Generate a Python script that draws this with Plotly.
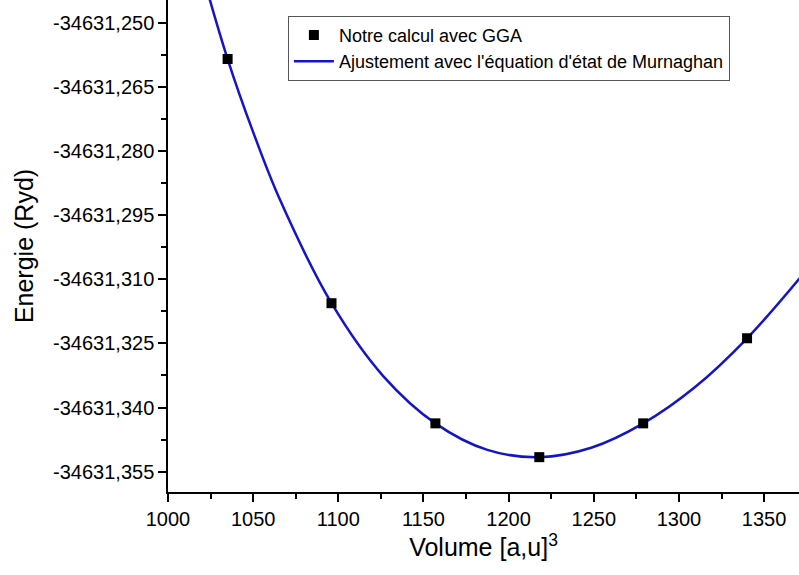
import plotly.graph_objects as go

# Data points (GGA calculation)
volume = [1035, 1096, 1157, 1218, 1279, 1340]
energy = [-34631.2585, -34631.3156, -34631.3437, -34631.3516, -34631.3437, -34631.3238]

# Murnaghan fit curve
fit_volume = [1022, 1035, 1050, 1065.5, 1096, 1126.5, 1157, 1187.5, 1218, 1248.5, 1279, 1309.5, 1340, 1371]
fit_energy = [-34631.2411, -34631.2585, -34631.2756, -34631.2912, -34631.3156, -34631.3327,
              -34631.3437, -34631.3499, -34631.3516, -34631.3494, -34631.3437, -34631.3352,
              -34631.3238, -34631.3097]

y_tick_vals = [-34631.250, -34631.265, -34631.280, -34631.295, -34631.310, -34631.325, -34631.340, -34631.355]
y_tick_text = ["-34631,250", "-34631,265", "-34631,280", "-34631,295", "-34631,310", "-34631,325", "-34631,340", "-34631,355"]
x_tick_vals = [1000, 1050, 1100, 1150, 1200, 1250, 1300, 1350]

FONT = "Arial, Liberation Sans, sans-serif"

fig = go.Figure()
fig.add_trace(go.Scatter(
    x=fit_volume, y=fit_energy, mode="lines", name="Ajustement avec l'équation d'état de Murnaghan",
    line=dict(color="#1414c8", width=2.5, shape="spline", smoothing=1.0),
))
fig.add_trace(go.Scatter(
    x=volume, y=energy, mode="markers", name="Notre calcul avec GGA",
    marker=dict(symbol="square", size=10, color="black"),
))

fig.update_layout(
    width=799, height=575,
    margin=dict(l=168, r=0, t=0, b=83),
    plot_bgcolor="white", paper_bgcolor="white",
    font=dict(family=FONT, color="black"),
    showlegend=True,
    legend=dict(
        x=0.19, y=0.968, xanchor="left", yanchor="top",
        bordercolor="#555555", borderwidth=1, bgcolor="white",
        font=dict(size=18, family=FONT), traceorder="reversed",
        tracegroupgap=0, itemwidth=40,
    ),
    xaxis=dict(
        range=[1000, 1370.5], tickvals=x_tick_vals,
        showgrid=False, zeroline=False, showline=True, linecolor="black", linewidth=1.5,
        ticks="outside", ticklen=8, tickwidth=1.5, tickcolor="black",
        tickfont=dict(size=20, family=FONT),
        minor=dict(dtick=25, tick0=1000, ticks="outside", ticklen=5, tickwidth=1.5, tickcolor="black"),
        title=dict(text="Volume [a,u]<sup>3</sup>", font=dict(size=25, family=FONT), standoff=8),
    ),
    yaxis=dict(
        range=[-34631.35975, -34631.2447], tickvals=y_tick_vals, ticktext=y_tick_text,
        showgrid=False, zeroline=False, showline=True, linecolor="black", linewidth=1.5,
        ticks="outside", ticklen=8, tickwidth=1.5, tickcolor="black",
        tickfont=dict(size=20, family=FONT),
        minor=dict(dtick=0.0075, tick0=-34631.250, ticks="outside", ticklen=5, tickwidth=1.5, tickcolor="black"),
        title=dict(text="Energie (Ryd)", font=dict(size=25, family=FONT), standoff=12),
    ),
)

fig.write_html("out.html")
